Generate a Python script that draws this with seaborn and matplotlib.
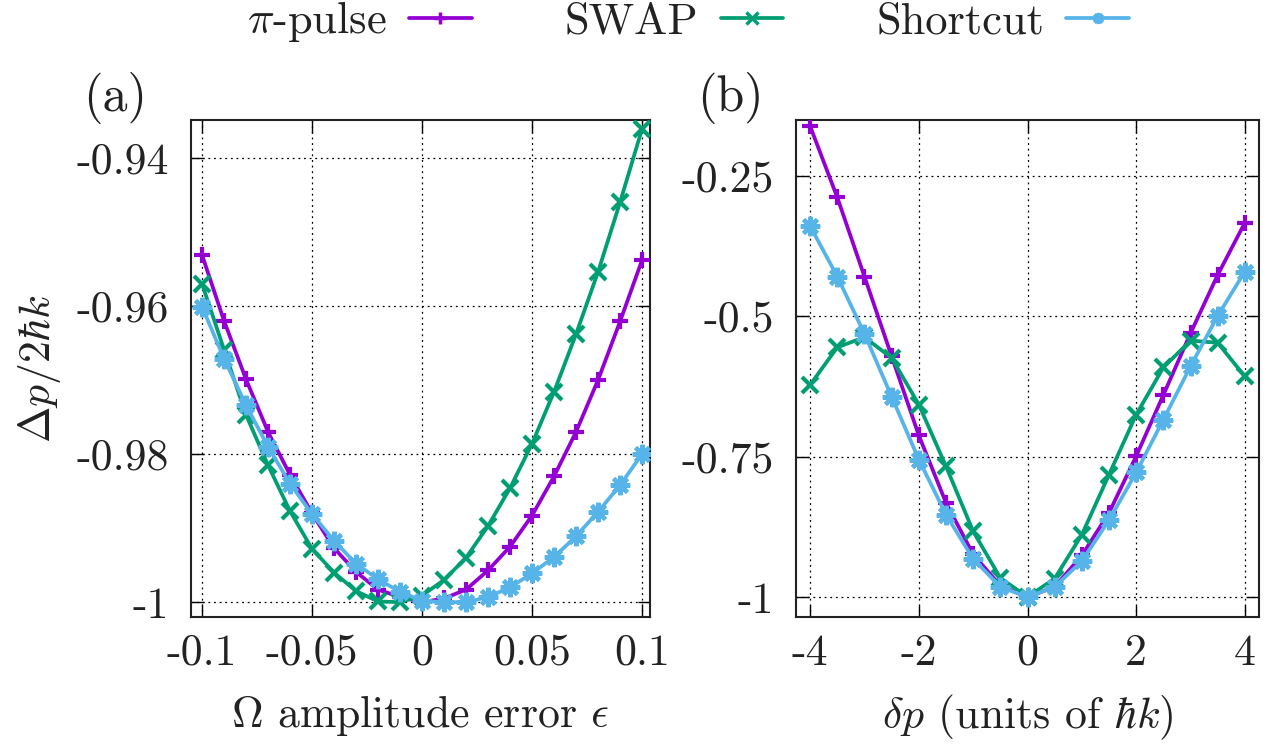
import numpy as np
import pandas as pd
import matplotlib
matplotlib.use("Agg")
import matplotlib.pyplot as plt
import seaborn as sns
from matplotlib.lines import Line2D

# ---------------- data ----------------
eps = [-0.1, -0.09, -0.08, -0.07, -0.06, -0.05, -0.04, -0.03, -0.02, -0.01, 0.0,
       0.01, 0.02, 0.03, 0.04, 0.05, 0.06, 0.07, 0.08, 0.09, 0.1]
pi_a = [-0.9531, -0.9620, -0.9699, -0.9770, -0.9828, -0.9880, -0.9927, -0.9959, -0.9983, -0.9993, -1.0000,
        -0.9995, -0.9983, -0.9957, -0.9925, -0.9883, -0.9830, -0.9770, -0.9700, -0.9621, -0.9538]
swap_a = [-0.9570, -0.9659, -0.9747, -0.9815, -0.9877, -0.9928, -0.9960, -0.9985, -0.9999, -1.0000, -0.9991,
          -0.9970, -0.9940, -0.9897, -0.9846, -0.9786, -0.9716, -0.9638, -0.9554, -0.9460, -0.9361]
short_a = [-0.9601, -0.9671, -0.9734, -0.9790, -0.9840, -0.9881, -0.9917, -0.9948, -0.9969, -0.9986, -0.9998,
           -1.0000, -1.0000, -0.9993, -0.9980, -0.9961, -0.9939, -0.9911, -0.9878, -0.9842, -0.9800]

dp = [-4.0, -3.5, -3.0, -2.5, -2.0, -1.5, -1.0, -0.5, 0.0, 0.5, 1.0, 1.5, 2.0, 2.5, 3.0, 3.5, 4.0]
pi_b = [-0.161, -0.288, -0.429, -0.571, -0.712, -0.832, -0.924, -0.980, -1.000,
        -0.982, -0.926, -0.850, -0.749, -0.640, -0.530, -0.426, -0.333]
swap_b = [-0.622, -0.555, -0.537, -0.574, -0.657, -0.767, -0.883, -0.966, -1.000,
          -0.967, -0.889, -0.782, -0.675, -0.591, -0.543, -0.547, -0.607]
short_b = [-0.339, -0.429, -0.531, -0.643, -0.755, -0.853, -0.932, -0.982, -1.000,
           -0.982, -0.936, -0.863, -0.778, -0.684, -0.589, -0.499, -0.420]

series_names = [r"$\pi$-pulse", "SWAP", "Shortcut"]
colors = ["#9400D3", "#009E73", "#56B4E9"]
markers = ["+", "x", (8, 2, 0)]
msizes = [12, 12, 14]
mews = [3.0, 3.0, 3.0]

xticks_a = [-0.1, -0.05, 0.0, 0.05, 0.1]
xticklabels_a = ["-0.1", "-0.05", "0", "0.05", "0.1"]
yticks_a = [-1.0, -0.98, -0.96, -0.94]
yticklabels_a = ["-1", "-0.98", "-0.96", "-0.94"]
xticks_b = [-4, -2, 0, 2, 4]
xticklabels_b = ["-4", "-2", "0", "2", "4"]
yticks_b = [-1.0, -0.75, -0.5, -0.25]
yticklabels_b = ["-1", "-0.75", "-0.5", "-0.25"]

# ---------------- style ----------------
sns.set_style("white")
plt.rcParams["font.family"] = ["cmr10", "DejaVu Serif"]
plt.rcParams["mathtext.fontset"] = "cm"
plt.rcParams["axes.formatter.use_mathtext"] = True
plt.rcParams["axes.unicode_minus"] = False
FS = 31.5
TXT = "#222222"

fig = plt.figure(figsize=(12.7, 7.52), dpi=100)
axa = fig.add_axes([191 / 1270, 1 - 617 / 752, 459 / 1270, 497 / 752])
axb = fig.add_axes([796 / 1270, 1 - 617 / 752, 463 / 1270, 497 / 752])

dfa = pd.DataFrame({"x": eps * 3,
                    "y": pi_a + swap_a + short_a,
                    "s": sum([[n] * len(eps) for n in series_names], [])})
dfb = pd.DataFrame({"x": dp * 3,
                    "y": pi_b + swap_b + short_b,
                    "s": sum([[n] * len(dp) for n in series_names], [])})

for ax, df in [(axa, dfa), (axb, dfb)]:
    for name, c, m, ms, mw in zip(series_names, colors, markers, msizes, mews):
        sub = df[df["s"] == name]
        sns.lineplot(data=sub, x="x", y="y", ax=ax, color=c, marker=m,
                     markersize=ms, markeredgewidth=mw, markeredgecolor=c,
                     linewidth=2.7, legend=False, zorder=3)

def style_axes(ax, xt, xtl, yt, ytl, xlim, ylim, xlabel):
    ax.set_xlim(*xlim)
    ax.set_ylim(*ylim)
    ax.set_xticks(xt)
    ax.set_xticklabels(xtl, fontsize=FS)
    ax.set_yticks(yt)
    ax.set_yticklabels(ytl, fontsize=FS)
    ax.tick_params(direction="in", length=9, width=1.0, top=True, right=True,
                   bottom=True, left=True, pad=12, colors="black", labelcolor=TXT)
    ax.tick_params(axis="y", pad=16)
    ax.grid(True, linestyle=(0, (1.5, 3)), color="black", linewidth=0.9)
    ax.set_axisbelow(True)
    for sp in ax.spines.values():
        sp.set_visible(True)
        sp.set_color(TXT)
        sp.set_linewidth(1.5)
    ax.set_xlabel(xlabel, fontsize=FS, color=TXT, labelpad=14)
    ax.set_ylabel("")

style_axes(axa, xticks_a, xticklabels_a, yticks_a, yticklabels_a,
           (-0.105, 0.1036), (-1.002, -0.9349), r"$\Omega$ amplitude error $\epsilon$")
style_axes(axb, xticks_b, xticklabels_b, yticks_b, yticklabels_b,
           (-4.26, 4.26), (-1.0356, -0.150), r"$\delta p$ (units of $\hbar k$)")
axa.set_ylabel(r"$\Delta p/2\hbar k$", fontsize=FS, color=TXT, labelpad=10)

fig.text(115 / 1270, 1 - 98 / 752, "(a)", fontsize=36, ha="center", va="center", color=TXT)
fig.text(730 / 1270, 1 - 98 / 752, "(b)", fontsize=36, ha="center", va="center", color=TXT)

handles = [Line2D([0], [0], color=c, marker=m, markersize=8, markeredgewidth=2.5,
                  linewidth=2.7) for c, m in zip(colors, markers)]
fig.legend(handles, series_names, loc="center", bbox_to_anchor=(688 / 1270, 1 - 22 / 752),
           ncol=3, frameon=False, fontsize=32, markerfirst=False, handlelength=1.4,
           handletextpad=0.5, columnspacing=2.1, labelcolor=TXT,
           borderpad=0, borderaxespad=0)

fig.savefig("out.png", dpi=100)
